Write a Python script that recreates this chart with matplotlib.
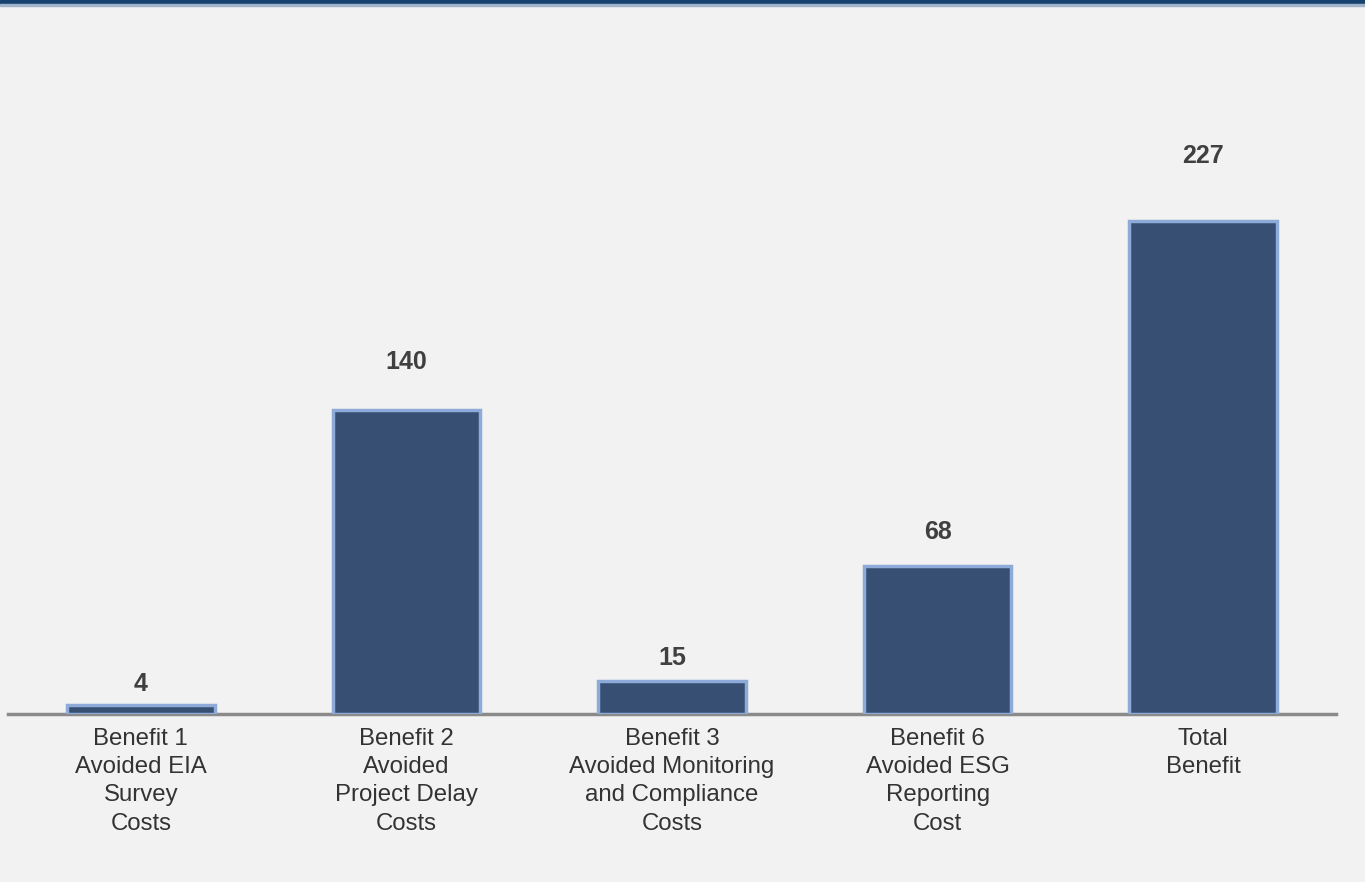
import matplotlib
matplotlib.use("Agg")
import matplotlib.pyplot as plt
from matplotlib.patches import Rectangle

categories = [
    "Benefit 1\nAvoided EIA\nSurvey\nCosts",
    "Benefit 2\nAvoided\nProject Delay\nCosts",
    "Benefit 3\nAvoided Monitoring\nand Compliance\nCosts",
    "Benefit 6\nAvoided ESG\nReporting\nCost",
    "Total\nBenefit",
]
values = [4, 140, 15, 68, 227]

plt.rcParams["font.family"] = ["Liberation Sans", "DejaVu Sans"]

BG = "#f2f2f2"
fig = plt.figure(figsize=(13.65, 8.82), dpi=100, facecolor=BG)
# header band
fig.patches.append(Rectangle((0, 1 - 4 / 882), 1, 4 / 882, transform=fig.transFigure,
                             color="#17426e", zorder=0))
fig.patches.append(Rectangle((0, 1 - 6 / 882), 1, 2 / 882, transform=fig.transFigure,
                             color="#9fb4c8", zorder=0))

ax = fig.add_axes([8 / 1365, 1 - 714 / 882, 1328 / 1365, 684 / 882])
ax.set_facecolor(BG)
x = list(range(len(values)))
ax.bar(x, values, width=0.555, color="#374f73", edgecolor="#8eaad8", linewidth=2.5, zorder=3)
for xi, v in zip(x, values):
    ax.text(xi, v * 1.09 + 9.5, str(v), ha="center", va="center", fontsize=18,
            fontweight="bold", color="#404040")

ax.set_xlim(-0.5, len(values) - 0.5)
ax.set_ylim(0, 315)
ax.set_yticks([])
ax.set_xticks(x)
ax.set_xticklabels(categories, fontsize=17.3, color="#333333", linespacing=1.37)
ax.tick_params(axis="x", length=0, pad=10)
for s in ["top", "right", "left"]:
    ax.spines[s].set_visible(False)
ax.spines["bottom"].set_color("#8a8a8a")
ax.spines["bottom"].set_linewidth(2.5)
ax.spines["bottom"].set_zorder(2)

fig.savefig("out.png", dpi=100, facecolor=BG)
